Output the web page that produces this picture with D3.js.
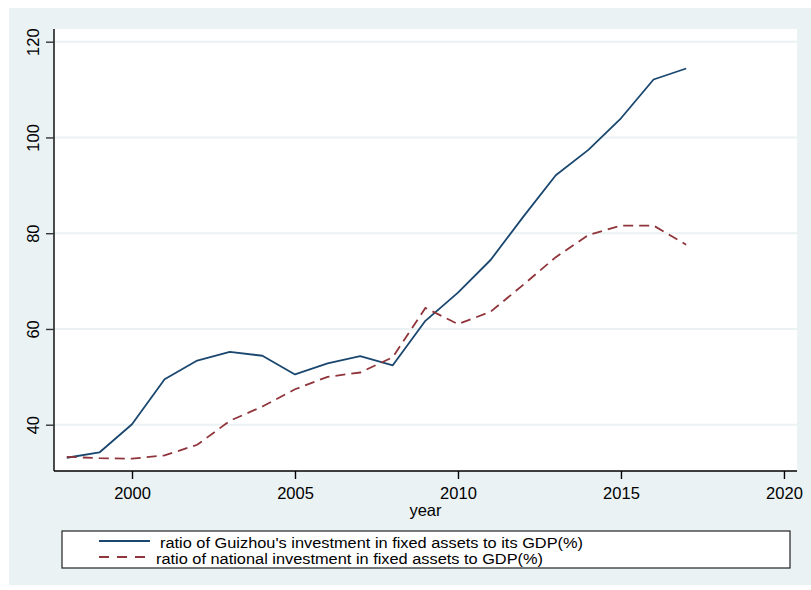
<!DOCTYPE html>
<html>
<head>
<meta charset="utf-8">
<script src="https://cdn.jsdelivr.net/npm/d3@7"></script>
<style>
  html, body { margin: 0; padding: 0; background: #ffffff; }
  svg { display: block; }
  text { font-family: "Liberation Sans", Arial, sans-serif; fill: #000; }
</style>
</head>
<body>
<svg id="chart" width="811" height="590"></svg>
<script>
// Fixed-asset investment ratios, 1998-2017
const years = [1998, 1999, 2000, 2001, 2002, 2003, 2004, 2005, 2006, 2007,
               2008, 2009, 2010, 2011, 2012, 2013, 2014, 2015, 2016, 2017];
const guizhou = [33.1, 34.2, 40.1, 49.5, 53.4, 55.2, 54.4, 50.5, 52.8, 54.3,
                 52.4, 61.7, 67.6, 74.4, 83.4, 92.1, 97.4, 104.0, 112.1, 114.4];
const national = [33.3, 33.0, 32.9, 33.6, 35.8, 40.8, 43.8, 47.4, 50.0, 50.9,
                  54.1, 64.4, 61.0, 63.6, 69.2, 75.0, 79.6, 81.6, 81.6, 77.6];
const xTicks = [2000, 2005, 2010, 2015, 2020];
const yTicks = [40, 60, 80, 100, 120];
const seriesLabels = [
  "ratio of Guizhou's investment in fixed assets to its GDP(%)",
  "ratio of national investment in fixed assets to GDP(%)"
];
const xTitle = "year";

const svg = d3.select("#chart");
const bgColor = "#eaf2f3";
const blue = "#1a476f";
const red = "#90353b";

// outer graph region
svg.append("rect").attr("x", 9).attr("y", 8).attr("width", 802).attr("height", 577)
  .attr("fill", bgColor);

const plot = { left: 54, right: 797, top: 29, bottom: 471 };
plot.width = plot.right - plot.left;

const x = d3.scaleLinear().domain([1997.607, 2020.4]).range([plot.left, plot.right]);
const y = d3.scaleLinear().domain([30.33, 122.65]).range([plot.bottom, plot.top]);

// plot region
svg.append("rect").attr("x", plot.left).attr("y", plot.top)
  .attr("width", plot.width).attr("height", plot.bottom - plot.top)
  .attr("fill", "#ffffff");

// horizontal grid lines
svg.append("g").selectAll("line").data(yTicks).join("line")
  .attr("x1", plot.left).attr("x2", plot.right)
  .attr("y1", d => y(d)).attr("y2", d => y(d))
  .attr("stroke", bgColor).attr("stroke-width", 2);

// y axis
const yAxis = svg.append("g").attr("transform", `translate(${plot.left},0)`)
  .call(d3.axisLeft(y).tickValues(yTicks).tickSize(8).tickFormat(d3.format("d")));
yAxis.select(".domain").attr("d", `M0,${plot.top}V${plot.bottom}`).attr("stroke", "#000").attr("stroke-width", 1.4);
yAxis.selectAll(".tick line").attr("stroke", "#333").attr("stroke-width", 1.4);
yAxis.selectAll(".tick text")
  .attr("x", null).attr("dy", null)
  .attr("text-anchor", "middle")
  .attr("transform", "translate(-21,0) rotate(-90)")
  .attr("dy", "0.36em")
  .style("font-size", "16.5px")
  .style("font-family", "Liberation Sans, Arial, sans-serif")
  .attr("fill", "#000");

// x axis
const xAxis = svg.append("g").attr("transform", `translate(0,${plot.bottom})`)
  .call(d3.axisBottom(x).tickValues(xTicks).tickSize(8).tickFormat(d3.format("d")));
xAxis.select(".domain").attr("d", `M${plot.left},0H${plot.right}`).attr("stroke", "#000").attr("stroke-width", 1.4);
xAxis.selectAll(".tick line").attr("stroke", "#000").attr("stroke-width", 1.4);
xAxis.selectAll(".tick text")
  .attr("y", 22).attr("dy", "0.36em")
  .style("font-size", "16.5px")
  .style("font-family", "Liberation Sans, Arial, sans-serif")
  .attr("fill", "#000");

svg.append("text").attr("x", (plot.left + plot.right) / 2).attr("y", 510)
  .attr("dy", "0.36em").attr("text-anchor", "middle")
  .style("font-size", "16.5px").text(xTitle);

// series lines
const line = d3.line().x((d, i) => x(years[i])).y(d => y(d));
svg.append("path").datum(guizhou).attr("d", line)
  .attr("fill", "none").attr("stroke", blue).attr("stroke-width", 1.8)
  .attr("stroke-linejoin", "round");
svg.append("path").datum(national).attr("d", line)
  .attr("fill", "none").attr("stroke", red).attr("stroke-width", 1.8)
  .attr("stroke-dasharray", "10,6");

// legend
const legend = svg.append("g");
legend.append("rect").attr("x", 62).attr("y", 531).attr("width", 728).attr("height", 37)
  .attr("fill", "#ffffff").attr("stroke", "#222").attr("stroke-width", 1.2);
const legendRows = [
  { label: seriesLabels[0], color: blue, dash: null, y: 541, tx: 160, w: 423 },
  { label: seriesLabels[1], color: red, dash: "10,8", y: 557, tx: 156, w: 387 }
];
legendRows.forEach(r => {
  legend.append("line").attr("x1", 99).attr("x2", 150).attr("y1", r.y).attr("y2", r.y)
    .attr("stroke", r.color).attr("stroke-width", 1.8)
    .attr("stroke-dasharray", r.dash);
  legend.append("text").attr("x", r.tx).attr("y", r.y + 1).attr("dy", "0.36em")
    .style("font-size", "15.5px")
    .attr("textLength", r.w).attr("lengthAdjust", "spacingAndGlyphs")
    .text(r.label);
});
</script>
</body>
</html>
